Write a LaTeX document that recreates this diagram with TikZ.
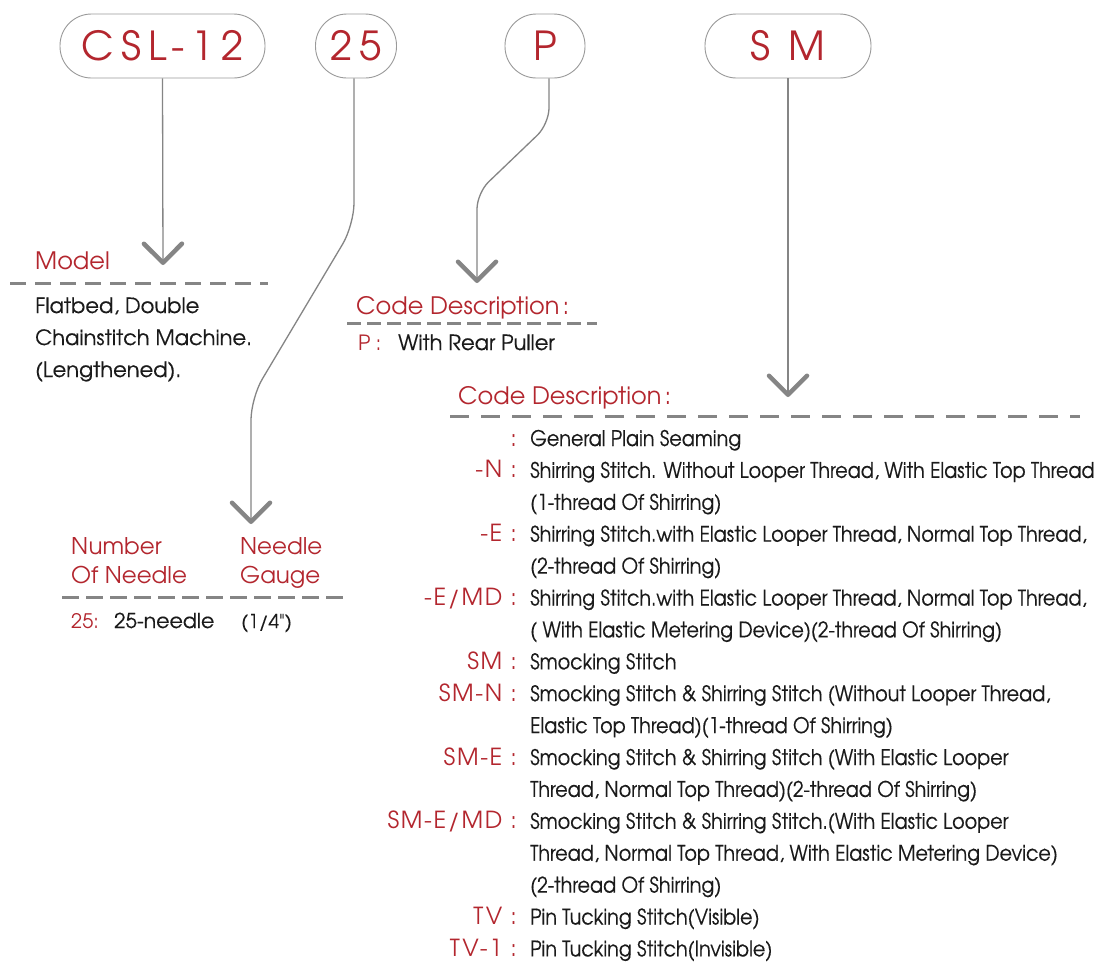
\documentclass[tikz,border=0pt]{standalone}
\usepackage{fontspec}
\setmainfont{TeX Gyre Adventor}
\newfontfamily\bodyfont[FakeBold=0.35]{TeX Gyre Adventor}
\newfontfamily\condfont[FakeStretch=0.89,FakeBold=0.35]{TeX Gyre Adventor}
\newfontfamily\labfont[LetterSpace=7]{TeX Gyre Adventor}
\newfontfamily\boxfont[LetterSpace=18]{TeX Gyre Adventor}
\usetikzlibrary{arrows.meta}
\definecolor{cred}{HTML}{B3262E}
\definecolor{lgray}{HTML}{858585}
\definecolor{bgray}{HTML}{9A9A9A}
\definecolor{tblack}{HTML}{1A1A1A}
\newcommand\coderow[4]{%
  \node[rowlab] (l#1) at (517,{446+31.9*#2}) {#3};
  \node[rowtxt] (t#1) at (530,{446+31.9*#2}) {#4};}
\newcommand\conttxt[3]{%
  \node[rowtxt] (t#1) at (530,{446+31.9*#2}) {#3};}
\newcommand\lc{\hspace{8pt}:}
\begin{document}
\begin{tikzpicture}[x=1pt,y=-1pt,
  codebox/.style={draw=bgray,line width=0.9pt,rounded corners=31.5pt,minimum height=64pt,inner sep=0pt,text=cred,font=\boxfont\fontsize{40}{40}\selectfont},
  conn/.style={draw=lgray,line width=1.3pt,-{Straight Barb[length=19pt,width=38pt,line width=4.5pt,round]}},
  dashline/.style={draw=lgray,line width=3pt,dash pattern=on 16pt off 9pt},
  head/.style={text=cred,inner sep=0pt,anchor=base west,font=\fontsize{24}{24}\selectfont},
  body/.style={text=tblack,inner sep=0pt,anchor=base west,font=\bodyfont\fontsize{21}{21}\selectfont},
  redlab/.style={text=cred,inner sep=0pt,anchor=base west,font=\labfont\fontsize{21}{21}\selectfont},
  rowlab/.style={text=cred,inner sep=0pt,anchor=base east,font=\labfont\fontsize{23.5}{23.5}\selectfont},
  rowtxt/.style={text=tblack,inner sep=0pt,anchor=base west,font=\condfont\fontsize{21.5}{21.5}\selectfont},
  rounded corners=0pt]
\useasboundingbox[fill=white] (0,0) rectangle (1095,962);

% top code boxes
\node[codebox,minimum width=205pt] (csl) at (162.5,46) {CSL-12};
\node[codebox,minimum width=81pt] (b25) at (356,46) {25};
\node[codebox,minimum width=80pt] (bp) at (545,46) {P};
\node[codebox,minimum width=166pt] (bsm) at (788,46) {S M};

% arrow ends
\coordinate (e1) at (163,265);
\coordinate (e2) at (251,524);
\coordinate (e3) at (477,283);
\coordinate (e4) at (788,397);

% connectors
\draw[conn] (csl.south) -- (e1);
\draw[conn,rounded corners=22pt] ([xshift=-2pt]b25.south) -- (354,225) -- (251,398) -- (e2);
\draw[conn,rounded corners=16pt] ([xshift=4pt]bp.south) -- (549,124) -- (477,193) -- (e3);
\draw[conn] (bsm.south) -- (e4);

% Model block
\node[head] (model) at (35,269) {Model};
\draw[dashline] (10,283) -- (268,283);
\node[body] (m1) at (35,313) {Flatbed, Double};
\node[body] (m2) at (35,345) {Chainstitch Machine.};
\node[body] (m3) at (35,377) {(Lengthened).};

% P block
\node[head] (pcd) at (356,314) {Code Description\hspace{3pt}:};
\draw[dashline,dash pattern=on 14pt off 6pt] (347,323) -- (597,323);
\node[redlab] (pl) at (358,350) {P\hspace{5pt}:};
\node[body] (pt) at (398,350) {With Rear Puller};

% Needle block
\node[head,font=\fontsize{23}{23}\selectfont] (n1) at (71,554) {Number};
\node[head,font=\fontsize{23}{23}\selectfont] (n2) at (71,583) {Of Needle};
\node[head,font=\fontsize{23}{23}\selectfont] (g1) at (240,554) {Needle};
\node[head,font=\fontsize{23}{23}\selectfont] (g2) at (240,583) {Gauge};
\draw[dashline,dash pattern=on 17pt off 7pt] (62,597) -- (345,597);
\node[redlab,font=\fontsize{20}{20}\selectfont] (nl) at (71,628) {25:};
\node[body,font=\bodyfont\fontsize{20.5}{20.5}\selectfont] (nt) at (114,628) {25-needle};
\node[body,font=\bodyfont\fontsize{19}{19}\selectfont] (gt) at (241,628) {(1/4")};

% SM block
\node[head] (smcd) at (458,404) {Code Description\hspace{3pt}:};
\draw[dashline,dash pattern=on 19pt off 12pt] (450,416) -- (1080,416);
\coderow{0}{0}{:}{General Plain Seaming}
\coderow{1}{1}{-N\lc}{Shirring Stitch. Without Looper Thread, With Elastic Top Thread}
\conttxt{2}{2}{(1-thread Of Shirring)}
\coderow{3}{3}{-E\lc}{Shirring Stitch.with Elastic Looper Thread, Normal Top Thread,}
\conttxt{4}{4}{(2-thread Of Shirring)}
\coderow{5}{5}{-E/MD\lc}{Shirring Stitch.with Elastic Looper Thread, Normal Top Thread,}
\conttxt{6}{6}{( With Elastic Metering Device)(2-thread Of Shirring)}
\coderow{7}{7}{SM\lc}{Smocking Stitch}
\coderow{8}{8}{SM-N\lc}{Smocking Stitch \& Shirring Stitch (Without Looper Thread,}
\conttxt{9}{9}{Elastic Top Thread)(1-thread Of Shirring)}
\coderow{10}{10}{SM-E\lc}{Smocking Stitch \& Shirring Stitch (With Elastic Looper}
\conttxt{11}{11}{Thread, Normal Top Thread)(2-thread Of Shirring)}
\coderow{12}{12}{SM-E/MD\lc}{Smocking Stitch \& Shirring Stitch.(With Elastic Looper}
\conttxt{13}{13}{Thread, Normal Top Thread, With Elastic Metering Device)}
\conttxt{14}{14}{(2-thread Of Shirring)}
\coderow{15}{15}{TV\lc}{Pin Tucking Stitch(Visible)}
\coderow{16}{16}{TV-1\lc}{Pin Tucking Stitch(Invisible)}
\end{tikzpicture}
\end{document}
